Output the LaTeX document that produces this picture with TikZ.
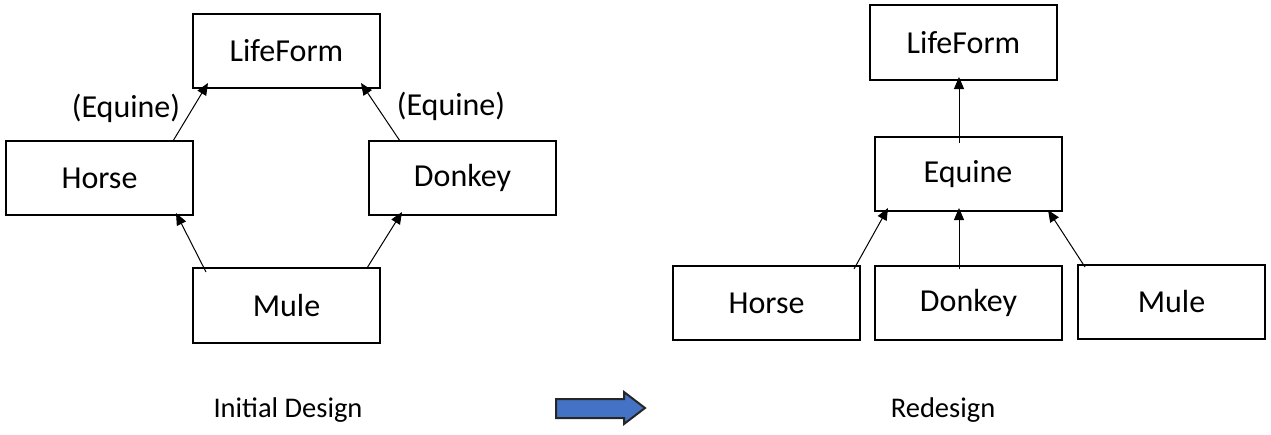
\documentclass[tikz,border=0pt]{standalone}
\usepackage{fontspec}
\setmainfont{Carlito}
\usetikzlibrary{arrows.meta}
\definecolor{arrowblue}{HTML}{4472C4}
\begin{document}
\begin{tikzpicture}[x=1pt,y=-1pt,
  cls/.style={draw=black, line width=2pt, minimum width=187pt, minimum height=74pt, inner sep=0pt, font=\fontsize{32}{38}\selectfont},
  inh/.style={line width=1pt, -{Triangle[length=12pt,width=10pt]}},
  lbl/.style={inner sep=0pt, font=\fontsize{32}{38}\selectfont},
  captxt/.style={inner sep=0pt, font=\fontsize{28.5}{34}\selectfont}]
\useasboundingbox (0,0) rectangle (1271,434);
% initial design
\node[cls] (lifeL) at (286.5,51) {LifeForm};
\node[cls] (horseL) at (99.5,178) {Horse};
\node[cls] (donkeyL) at (462.5,178) {Donkey};
\node[cls, minimum height=75pt] (muleL) at (286.5,305.5) {Mule};
\node[lbl] (eqL1) at (126,108) {(Equine)};
\node[lbl] (eqL2) at (451,106) {(Equine)};
\draw[inh] ([xshift=73.5pt,yshift=-1pt]horseL.north) -- ([xshift=-78.5pt,yshift=6pt]lifeL.south);
\draw[inh] ([xshift=-62.5pt,yshift=-1pt]donkeyL.north) -- ([xshift=74.5pt,yshift=6pt]lifeL.south);
\draw[inh] ([xshift=-80.5pt,yshift=-5pt]muleL.north) -- ([xshift=76.5pt,yshift=3pt]horseL.south);
\draw[inh] ([xshift=80.5pt,yshift=-1pt]muleL.north) -- ([xshift=-60.5pt,yshift=4pt]donkeyL.south);
% redesign
\node[cls, minimum height=75pt] (lifeR) at (963.5,42.5) {LifeForm};
\node[cls] (equR) at (968,174) {Equine};
\node[cls] (horseR) at (766.5,303) {Horse};
\node[cls] (donkeyR) at (968.5,303) {Donkey};
\node[cls] (muleR) at (1171.5,302) {Mule};
\draw[inh] ([xshift=-9pt,yshift=-7pt]equR.north) -- ([xshift=-4.5pt,yshift=4pt]lifeR.south);
\draw[inh] ([xshift=87.5pt,yshift=-4pt]horseR.north) -- ([xshift=-80pt,yshift=4pt]equR.south);
\draw[inh] ([xshift=-9.5pt,yshift=-4pt]donkeyR.north) -- ([xshift=-9pt,yshift=4pt]equR.south);
\draw[inh] ([xshift=-86.5pt,yshift=-3pt]muleR.north) -- ([xshift=80pt,yshift=2pt]equR.south);
% captions
\node[captxt] (capL) at (288,410) {Initial Design};
\node[captxt] (capR) at (943,410) {Redesign};
\draw[draw=black!85, line width=2pt, fill=arrowblue, line join=miter]
  (556,399) -- (624,399) -- (624,392) -- (645,408) -- (624,424) -- (624,418) -- (556,418) -- cycle;
\end{tikzpicture}
\end{document}
